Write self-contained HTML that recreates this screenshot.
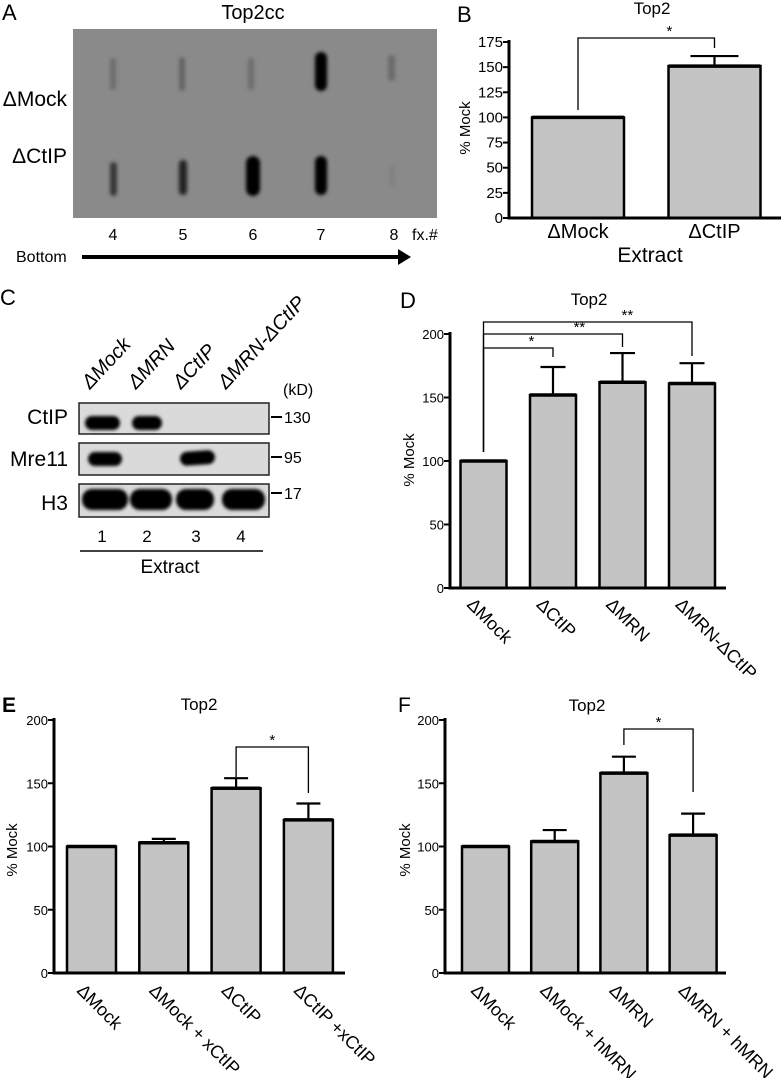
<!DOCTYPE html>
<html><head><meta charset="utf-8"><style>
html,body{margin:0;padding:0;background:#fff;}
svg{display:block;font-family:"Liberation Sans",sans-serif;}
</style></head><body>
<svg id="fig" width="783" height="1078" viewBox="0 0 783 1078" xmlns="http://www.w3.org/2000/svg">
<defs>
<filter id="blur1" x="-50%" y="-50%" width="200%" height="200%"><feGaussianBlur stdDeviation="1.8"/></filter>
<filter id="blur2" x="-50%" y="-50%" width="200%" height="200%"><feGaussianBlur stdDeviation="1.6"/></filter>
</defs>

<!-- Panel A -->
<g>
<text x="2" y="20" font-size="22">A</text>
<text x="253" y="19" font-size="20" text-anchor="middle">Top2cc</text>
<rect x="73" y="29" width="364" height="189" fill="#8a8a8a"/>
<g filter="url(#blur1)">
<rect x="110" y="58" width="6" height="32" rx="3" fill="#555" opacity="0.55"/>
<rect x="179" y="57" width="6" height="34" rx="3" fill="#555" opacity="0.7"/>
<rect x="248" y="58" width="6" height="32" rx="3" fill="#555" opacity="0.55"/>
<rect x="315" y="52" width="12" height="39" rx="6" fill="#000"/>
<rect x="388" y="55" width="7" height="26" rx="3.5" fill="#555" opacity="0.6"/>
<rect x="110" y="162" width="7" height="34" rx="3.5" fill="#2a2a2a" opacity="0.85"/>
<rect x="179" y="160" width="8" height="35" rx="4" fill="#1a1a1a" opacity="0.9"/>
<rect x="246" y="156" width="14" height="40" rx="7" fill="#000"/>
<rect x="315" y="156" width="12" height="39" rx="6" fill="#000"/>
<rect x="390" y="165" width="5" height="22" rx="2.5" fill="#777" opacity="0.5"/>
</g>
<text x="67" y="106" font-size="21" text-anchor="end">ΔMock</text>
<text x="67" y="163" font-size="21" text-anchor="end">ΔCtIP</text>
<g font-size="16" text-anchor="middle">
<text x="113" y="240">4</text><text x="183" y="240">5</text><text x="253" y="240">6</text><text x="321" y="240">7</text><text x="394" y="240">8</text>
</g>
<text x="412" y="240" font-size="16">fx.#</text>
<text x="16" y="262" font-size="16">Bottom</text>
<line x1="82" y1="257" x2="400" y2="257" stroke="#000" stroke-width="4"/>
<polygon points="398,249 411,257 398,265" fill="#000"/>
</g>

<!-- Panel C -->
<g>
<text x="0" y="305" font-size="22">C</text>
<g font-size="20" font-style="italic">
<text transform="translate(90,390) rotate(-47)">ΔMock</text>
<text transform="translate(136,390) rotate(-47)">ΔMRN</text>
<text transform="translate(181,390) rotate(-47)">ΔCtIP</text>
<text transform="translate(226,390) rotate(-47)">ΔMRN-ΔCtIP</text>
</g>
<text x="283" y="395" font-size="16">(kD)</text>
<rect x="79" y="403" width="190" height="31" fill="#dadada" stroke="#222" stroke-width="1.5"/>
<rect x="79" y="443" width="190" height="32" fill="#dadada" stroke="#222" stroke-width="1.5"/>
<rect x="79" y="484" width="190" height="33" fill="#dadada" stroke="#222" stroke-width="1.5"/>
<g filter="url(#blur2)" fill="#000">
<rect x="85" y="416" width="35" height="14" rx="7"/>
<rect x="132" y="416" width="30" height="14" rx="7"/>
<rect x="88" y="452" width="34" height="14" rx="7"/>
<rect x="180" y="451" width="35" height="14" rx="7" transform="rotate(-4 197 458)"/>
<rect x="82" y="489" width="46" height="21" rx="10"/>
<rect x="130" y="489" width="42" height="21" rx="10"/>
<rect x="176" y="489" width="38" height="21" rx="10"/>
<rect x="222" y="489" width="43" height="21" rx="10"/>
</g>
<g font-size="21" text-anchor="end">
<text x="68" y="424">CtIP</text><text x="68" y="466">Mre11</text><text x="68" y="510">H3</text>
</g>
<g font-size="16">
<line x1="271" y1="417" x2="282" y2="417" stroke="#000" stroke-width="2"/><text x="284" y="423">130</text>
<line x1="271" y1="457" x2="282" y2="457" stroke="#000" stroke-width="2"/><text x="284" y="463">95</text>
<line x1="271" y1="493" x2="282" y2="493" stroke="#000" stroke-width="2"/><text x="284" y="499">17</text>
</g>
<g font-size="17" text-anchor="middle">
<text x="102" y="542">1</text><text x="147" y="542">2</text><text x="196" y="542">3</text><text x="241" y="542">4</text>
</g>
<line x1="80" y1="551" x2="263" y2="551" stroke="#000" stroke-width="1.5"/>
<text x="170" y="573" font-size="19" text-anchor="middle">Extract</text>
</g>

<text x="457" y="22" font-size="22">B</text>
<text x="400" y="308" font-size="22">D</text>
<text x="2" y="712" font-size="21" font-weight="bold">E</text>
<text x="398" y="712" font-size="21">F</text>
<g id="charts"></g>
</svg>
<script>
// Panel B data
const bCats = ["ΔMock", "ΔCtIP"];
const bVals = [100, 151];
const bErrs = [0, 161];
const bTicks = [0, 25, 50, 75, 100, 125, 150, 175];
// Panel D data
const dCats = ["ΔMock", "ΔCtIP", "ΔMRN", "ΔMRN-ΔCtIP"];
const dVals = [100, 152, 162, 161];
const dErrs = [0, 174, 185, 177];
const dTicks = [0, 50, 100, 150, 200];
// Panel E data
const eCats = ["ΔMock", "ΔMock + xCtIP", "ΔCtIP", "ΔCtIP +xCtIP"];
const eVals = [100, 103, 146, 121];
const eErrs = [0, 106, 154, 134];
const eTicks = [0, 50, 100, 150, 200];
// Panel F data
const fCats = ["ΔMock", "ΔMock + hMRN", "ΔMRN", "ΔMRN + hMRN"];
const fVals = [100, 104, 158, 109];
const fErrs = [0, 113, 171, 126];
const fTicks = [0, 50, 100, 150, 200];

const NS = "http://www.w3.org/2000/svg";
const root = document.getElementById('charts');
function mk(tag, attrs, parent) {
  const e = document.createElementNS(NS, tag);
  for (const k in attrs) e.setAttribute(k, attrs[k]);
  parent.appendChild(e);
  return e;
}
function chart(c) {
  const g = mk('g', {}, root);
  
  
  const y = v => c.y0 - v * (c.y0 - c.yTop) / c.maxV;
  const cx = i => c.x0 + i * c.step;
  const t = mk('text', {x: c.titleX, y: c.titleY, 'font-size': 17, 'text-anchor': 'middle'}, g);
  t.textContent = 'Top2';
  
  
  const yt = mk('text', {transform: `translate(${c.ytX},${c.ytY}) rotate(-90)`, 'font-size': 15, 'text-anchor': 'middle'}, g);
  yt.textContent = '% Mock';
  
  
  c.vals.forEach((v, i) => {
    const r = mk('rect', {x: cx(i) - c.w / 2, y: y(v), width: c.w, height: c.y0 - y(v), fill: '#c4c4c4', stroke: '#000', 'stroke-width': 2.5}, g);
    
    
    const tl = mk('line', {x1: cx(i) - c.w / 2, x2: cx(i) + c.w / 2, y1: y(v), y2: y(v), stroke: '#000', 'stroke-width': 3.5}, g);
    
    
    const e = c.errs[i];
    if (e > v) {
      const el = mk('path', {d: `M${cx(i)},${y(v)}V${y(e)}M${cx(i) - c.cap / 2},${y(e)}H${cx(i) + c.cap / 2}`, stroke: '#000', 'stroke-width': 2.2, fill: 'none'}, g);
      
      
    }
  });
  const ax = mk('path', {d: `M${c.ax},${c.yTop - 2}V${c.y0}H${c.axEnd}`, stroke: '#000', 'stroke-width': 3, fill: 'none'}, g);
  
  
  c.ticks.forEach(tv => {
    const tk = mk('line', {x1: c.ax - 6, x2: c.ax, y1: y(tv), y2: y(tv), stroke: '#000', 'stroke-width': 2}, g);
    
    
    const tl = mk('text', {x: c.ax - 6, y: y(tv) + 5, 'font-size': c.tickFont, 'text-anchor': 'end'}, g);
    tl.textContent = tv;
    
    
  });
  c.cats.forEach((s, i) => {
    let lt;
    if (c.rot) {
      lt = mk('text', {transform: `translate(${cx(i) + c.lx},${c.ly}) rotate(45)`, 'font-size': 18, dy: '0.75em'}, g);
    } else {
      lt = mk('text', {x: cx(i), y: c.ly, 'font-size': 20, 'text-anchor': 'middle'}, g);
    }
    lt.textContent = s;
    
    
  });
  c.brackets.forEach(b => {
    const [i, j, lab, by, d1, d2] = b;
    const br = mk('path', {d: `M${cx(i)},${by + d1}V${by}H${cx(j)}V${by + d2}`, stroke: '#000', 'stroke-width': 1.3, fill: 'none'}, g);
    
    
    const st = mk('text', {x: (cx(i) + cx(j)) / 2 + (c.starShift || 0) * (cx(j) - cx(i)), y: by - 2, 'font-size': 15, 'text-anchor': 'middle'}, g);
    st.textContent = lab;
    
    
  });
  if (c.xTitle) {
    const xt = mk('text', {x: c.xTitle[0], y: c.xTitle[1], 'font-size': 21, 'text-anchor': 'middle'}, g);
    xt.textContent = 'Extract';
    
    
  }
}
chart({name: 'chart-b', cats: bCats, vals: bVals, errs: bErrs, ticks: bTicks, maxV: 175, y0: 218, yTop: 42,
  ax: 509, axEnd: 781, x0: 578, step: 136.5, w: 92, cap: 48, tickFont: 15,
  titleX: 652, titleY: 14, ytX: 470, ytY: 128, ly: 238, rot: false, xTitle: [650, 262],
  brackets: [[0, 1, '*', 38, 72, 10]], starShift: 0.17});
chart({name: 'chart-d', cats: dCats, vals: dVals, errs: dErrs, ticks: dTicks, maxV: 200, y0: 588, yTop: 334,
  ax: 450, axEnd: 726, x0: 483.5, step: 69.5, w: 46, cap: 25, tickFont: 13,
  titleX: 589, titleY: 305, ytX: 414, ytY: 460, ly: 596, lx: -8, rot: true,
  brackets: [[0, 1, '*', 348, 104, 9], [0, 2, '**', 334, 118, 13], [0, 3, '**', 322, 130, 34]], starShift: 0.19});
chart({name: 'chart-e', cats: eCats, vals: eVals, errs: eErrs, ticks: eTicks, maxV: 200, y0: 973, yTop: 720,
  ax: 54, axEnd: 345, x0: 91.5, step: 72.3, w: 49, cap: 24, tickFont: 13,
  titleX: 199, titleY: 710, ytX: 17, ytY: 850, ly: 982, lx: -6, rot: true,
  brackets: [[2, 3, '*', 747, 30, 46]]});
chart({name: 'chart-f', cats: fCats, vals: fVals, errs: fErrs, ticks: fTicks, maxV: 200, y0: 973, yTop: 720,
  ax: 445, axEnd: 726, x0: 485.5, step: 69.2, w: 47, cap: 24, tickFont: 13,
  titleX: 587, titleY: 711, ytX: 410, ytY: 850, ly: 982, lx: -6, rot: true,
  brackets: [[2, 3, '*', 729, 16, 63]]});
</script>
</body></html>
